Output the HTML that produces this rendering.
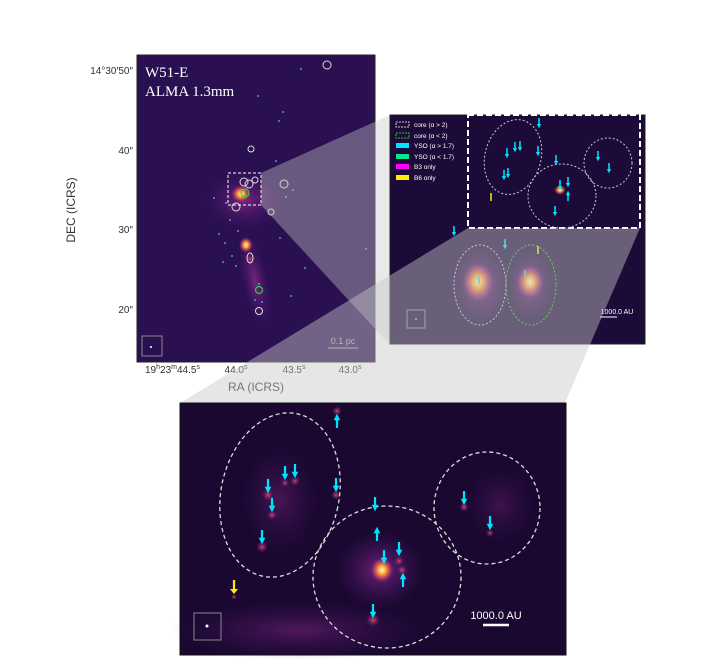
<!DOCTYPE html>
<html><head><meta charset="utf-8"><style>
body{margin:0;background:#fff;width:720px;height:672px;overflow:hidden;font-family:"Liberation Sans",sans-serif}
svg{display:block}
</style></head><body>
<svg width="720" height="672" viewBox="0 0 720 672" xmlns="http://www.w3.org/2000/svg">
<defs>
<radialGradient id="glow" cx="0.5" cy="0.5" r="0.5"><stop offset="0" stop-color="#fffbc0"/><stop offset="0.35" stop-color="#f9a030"/><stop offset="0.7" stop-color="#c03a6a" stop-opacity="0.7"/><stop offset="1" stop-color="#5a1a80" stop-opacity="0"/></radialGradient>
<radialGradient id="haze" cx="0.5" cy="0.5" r="0.5"><stop offset="0" stop-color="#8a2a8a" stop-opacity="0.8"/><stop offset="1" stop-color="#4a1470" stop-opacity="0"/></radialGradient>
<radialGradient id="knot" cx="0.5" cy="0.5" r="0.5"><stop offset="0" stop-color="#d04a5a"/><stop offset="1" stop-color="#6a1a80" stop-opacity="0"/></radialGradient>
<marker id="ac" viewBox="0 0 10 10" refX="5" refY="5" markerWidth="3" markerHeight="3" orient="auto"><path d="M0,0L10,5L0,10z" fill="#00e5ff"/></marker>
</defs>

<g>
<rect x="137" y="55" width="238" height="307" fill="#2a1050" stroke="#222"/>
<ellipse cx="245" cy="200" rx="40" ry="30" fill="url(#haze)"/>
<ellipse cx="255" cy="280" rx="14" ry="50" fill="url(#haze)" transform="rotate(-12 255 280)"/>
<ellipse cx="241" cy="194" rx="10" ry="9" fill="url(#glow)"/>
<ellipse cx="246" cy="245" rx="7" ry="8" fill="url(#glow)"/>
<ellipse cx="250" cy="259" rx="4" ry="5" fill="url(#knot)"/>
<g fill="none" stroke="#ddd" stroke-width="1">
<circle cx="327" cy="65" r="4"/><circle cx="251" cy="149" r="3"/><circle cx="244" cy="182" r="4"/><circle cx="249" cy="184" r="4"/><circle cx="255" cy="180" r="3"/><circle cx="236" cy="207" r="4"/><circle cx="284" cy="184" r="4"/><circle cx="271" cy="212" r="3"/><ellipse cx="250" cy="258" rx="3" ry="5"/><circle cx="259" cy="311" r="3.5"/>
</g>
<g fill="none" stroke="#2fd040" stroke-width="1.2"><circle cx="245" cy="193" r="4"/><circle cx="259" cy="290" r="3.5"/></g>
<g fill="#3ad0e0">
<circle cx="301" cy="69" r="0.9"/><circle cx="258" cy="96" r="0.9"/><circle cx="283" cy="112" r="0.9"/><circle cx="279" cy="121" r="0.9"/><circle cx="276" cy="161" r="0.9"/><circle cx="293" cy="190" r="0.9"/><circle cx="286" cy="197" r="0.9"/><circle cx="214" cy="198" r="0.9"/><circle cx="226" cy="203" r="0.9"/><circle cx="230" cy="220" r="0.9"/><circle cx="219" cy="234" r="0.9"/><circle cx="225" cy="243" r="0.9"/><circle cx="232" cy="256" r="0.9"/><circle cx="223" cy="262" r="0.9"/><circle cx="236" cy="266" r="0.9"/><circle cx="280" cy="238" r="0.9"/><circle cx="305" cy="268" r="0.9"/><circle cx="291" cy="296" r="0.9"/><circle cx="255" cy="300" r="0.9"/><circle cx="262" cy="302" r="0.9"/><circle cx="366" cy="249" r="0.9"/><circle cx="238" cy="231" r="0.9"/><circle cx="259" cy="284" r="0.9"/>
</g>
<text x="145" y="77" font-family="Liberation Serif,serif" font-size="15" fill="#fff">W51-E</text>
<text x="145" y="96" font-family="Liberation Serif,serif" font-size="15" fill="#fff">ALMA 1.3mm</text>
<rect x="228" y="173" width="33" height="32" fill="none" stroke="#fff" stroke-dasharray="3,2"/>
<rect x="142" y="336" width="20" height="20" fill="none" stroke="#888"/><circle cx="151" cy="347" r="1" fill="#fff"/>
<line x1="328" y1="348" x2="358" y2="348" stroke="#aaa"/><text x="343" y="344" font-size="9" fill="#aaa" text-anchor="middle">0.1 pc</text>
</g>
<g font-size="10" fill="#333">
<text x="133" y="74" text-anchor="end">14°30′50″</text>
<text x="133" y="154" text-anchor="end">40″</text>
<text x="133" y="233" text-anchor="end">30″</text>
<text x="133" y="313" text-anchor="end">20″</text>
<text x="145" y="373">19<tspan font-size="7" dy="-4">h</tspan><tspan dy="4">23</tspan><tspan font-size="7" dy="-4">m</tspan><tspan dy="4">44.5</tspan><tspan font-size="7" dy="-4">s</tspan></text>
<text x="236" y="373" text-anchor="middle">44.0<tspan font-size="7" dy="-4">s</tspan></text>
<text x="294" y="373" text-anchor="middle">43.5<tspan font-size="7" dy="-4">s</tspan></text>
<text x="350" y="373" text-anchor="middle">43.0<tspan font-size="7" dy="-4">s</tspan></text>
<text x="256" y="391" font-size="12" text-anchor="middle">RA (ICRS)</text>
<text x="75" y="210" font-size="12" text-anchor="middle" transform="rotate(-90 75 210)">DEC (ICRS)</text>
</g>

<polygon points="261,173 390,115 390,345 261,205" fill="#c8c8c8" opacity="0.4"/>

<g>
<rect x="390" y="115" width="255" height="229" fill="#1c0a38" stroke="#222"/>
<ellipse cx="480" cy="285" rx="30" ry="40" fill="url(#haze)"/>
<ellipse cx="530" cy="285" rx="25" ry="35" fill="url(#haze)"/>
<ellipse cx="478" cy="282" rx="16" ry="20" fill="url(#glow)"/>
<ellipse cx="530" cy="282" rx="14" ry="17" fill="url(#glow)"/>
<ellipse cx="560" cy="190" rx="6" ry="5" fill="url(#glow)"/>
<rect x="468" y="115" width="172" height="113" fill="none" stroke="#fff" stroke-width="2" stroke-dasharray="6,3"/>
<g fill="none" stroke="#ccc" stroke-dasharray="2,2">
<ellipse cx="513" cy="157" rx="28" ry="38" transform="rotate(15 513 157)"/><ellipse cx="562" cy="196" rx="34" ry="32"/><ellipse cx="608" cy="163" rx="24" ry="25"/><ellipse cx="480" cy="285" rx="26" ry="40"/>
</g>
<ellipse cx="531" cy="285" rx="25" ry="40" fill="none" stroke="#2fc030" stroke-dasharray="2,2"/>
<g stroke="#00e5ff" stroke-width="1.5" marker-end="url(#ac)">
<line x1="539" y1="118" x2="539" y2="126"/><line x1="507" y1="148" x2="507" y2="156"/><line x1="515" y1="142" x2="515" y2="150"/><line x1="520" y1="141" x2="520" y2="149"/><line x1="538" y1="146" x2="538" y2="154"/><line x1="504" y1="170" x2="504" y2="178"/><line x1="508" y1="168" x2="508" y2="176"/><line x1="556" y1="155" x2="556" y2="163"/><line x1="560" y1="180" x2="560" y2="188"/><line x1="568" y1="177" x2="568" y2="185"/><line x1="555" y1="206" x2="555" y2="214"/><line x1="598" y1="151" x2="598" y2="159"/><line x1="609" y1="163" x2="609" y2="171"/><line x1="568" y1="201" x2="568" y2="193"/><line x1="454" y1="226" x2="454" y2="234"/><line x1="505" y1="239" x2="505" y2="247"/>
</g>
<line x1="491" y1="193" x2="491" y2="201" stroke="#ffee00" stroke-width="1.5"/><line x1="538" y1="246" x2="538" y2="254" stroke="#ffee00" stroke-width="1.5"/>
<line x1="479" y1="276" x2="479" y2="284" stroke="#2fe0a0" stroke-width="1.5"/><line x1="525" y1="270" x2="525" y2="278" stroke="#2fe0a0" stroke-width="1.5"/>
<g font-size="6.5" fill="#fff">
<rect x="396" y="122" width="13" height="5" fill="none" stroke="#ccc" stroke-dasharray="2,1"/><text x="414" y="127">core (α &gt; 2)</text>
<rect x="396" y="133" width="13" height="5" fill="none" stroke="#2fc030" stroke-dasharray="2,1"/><text x="414" y="138">core (α &lt; 2)</text>
<rect x="396" y="143" width="13" height="5" fill="#00e5ff"/><text x="414" y="148">YSO (α &gt; 1.7)</text>
<rect x="396" y="154" width="13" height="5" fill="#00e890"/><text x="414" y="159">YSO (α &lt; 1.7)</text>
<rect x="396" y="164" width="13" height="5" fill="#ff00ff"/><text x="414" y="169">B3 only</text>
<rect x="396" y="175" width="13" height="5" fill="#ffee00"/><text x="414" y="180">B6 only</text>
</g>
<rect x="407" y="310" width="18" height="18" fill="none" stroke="#888"/><circle cx="416" cy="319" r="0.8" fill="#fff"/>
<line x1="600" y1="317" x2="617" y2="317" stroke="#fff"/><text x="617" y="314" font-size="7" fill="#fff" text-anchor="middle">1000.0 AU</text>
</g>

<polygon points="468,228 640,228 565,403 180,403" fill="#c8c8c8" opacity="0.45"/>

<g>
<rect x="180" y="403" width="386" height="252" fill="#1a0830" stroke="#111"/>
<ellipse cx="300" cy="630" rx="130" ry="30" fill="url(#haze)" opacity="0.6"/>
<ellipse cx="280" cy="500" rx="40" ry="55" fill="url(#haze)" opacity="0.5"/>
<ellipse cx="380" cy="570" rx="45" ry="40" fill="url(#haze)"/>
<ellipse cx="500" cy="505" rx="35" ry="40" fill="url(#haze)" opacity="0.4"/>
<ellipse cx="382" cy="570" rx="12" ry="13" fill="url(#glow)"/>
<ellipse cx="402" cy="570" rx="5" ry="5" fill="url(#knot)"/>
<g fill="url(#knot)">
<circle cx="337" cy="411" r="5"/><circle cx="268" cy="495" r="6"/><circle cx="285" cy="483" r="4"/><circle cx="295" cy="481" r="5"/><circle cx="272" cy="515" r="5"/><circle cx="262" cy="547" r="6"/><circle cx="336" cy="495" r="5"/><circle cx="464" cy="507" r="5"/><circle cx="490" cy="533" r="4"/><circle cx="373" cy="620" r="7"/><circle cx="399" cy="561" r="5"/><circle cx="234" cy="597" r="3"/>
</g>
<g fill="none" stroke="#ddd" stroke-width="1.3" stroke-dasharray="4,3">
<ellipse cx="280" cy="495" rx="59" ry="83" transform="rotate(12 280 495)"/><ellipse cx="387" cy="577" rx="74" ry="71"/><ellipse cx="487" cy="508" rx="53" ry="56"/>
</g>
<g stroke="#00e5ff" stroke-width="2.2" marker-end="url(#ac)">
<line x1="268" y1="479" x2="268" y2="490"/><line x1="285" y1="466" x2="285" y2="477"/><line x1="295" y1="464" x2="295" y2="475"/><line x1="272" y1="498" x2="272" y2="509"/><line x1="262" y1="530" x2="262" y2="541"/><line x1="336" y1="478" x2="336" y2="489"/><line x1="375" y1="497" x2="375" y2="508"/><line x1="464" y1="491" x2="464" y2="502"/><line x1="490" y1="516" x2="490" y2="527"/><line x1="373" y1="604" x2="373" y2="615"/><line x1="384" y1="550" x2="384" y2="561"/><line x1="399" y1="542" x2="399" y2="553"/>
<line x1="337" y1="428" x2="337" y2="417"/><line x1="377" y1="541" x2="377" y2="530"/><line x1="403" y1="587" x2="403" y2="576"/>
</g>
<line x1="234" y1="580" x2="234" y2="590" stroke="#ffee00" stroke-width="2.2"/><path d="M230,589L238,589L234,594z" fill="#ffee00"/>
<rect x="194" y="613" width="27" height="27" fill="none" stroke="#888"/><circle cx="207" cy="626" r="1.5" fill="#fff"/>
<line x1="483" y1="625" x2="509" y2="625" stroke="#fff" stroke-width="2.5"/><text x="496" y="619" font-size="11" fill="#fff" text-anchor="middle">1000.0 AU</text>
</g>
</svg>
</body></html>
